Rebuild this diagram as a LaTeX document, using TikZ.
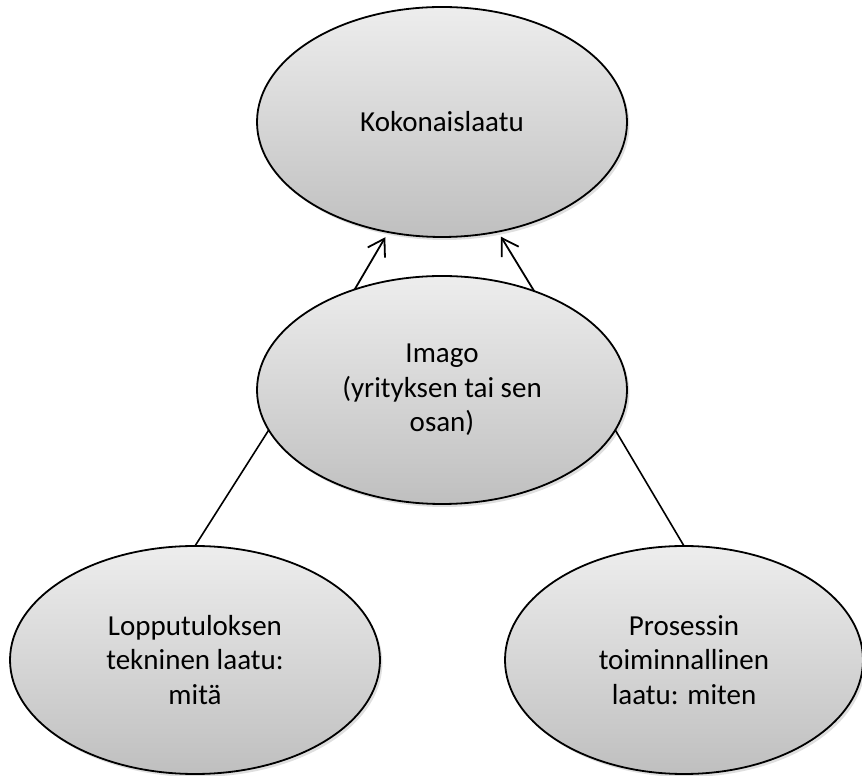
\documentclass[tikz,border=0pt]{standalone}
\usepackage{fontspec}
\setmainfont{Carlito}
\usetikzlibrary{shapes.geometric}
\usetikzlibrary{arrows.meta}
\usetikzlibrary{shadows}

\begin{document}
\begin{tikzpicture}[x=0.5pt, y=0.5pt,
  pallo/.style={ellipse, draw=black, line width=0.9pt, inner sep=0pt, outer sep=0pt,
    top color=gray!14, bottom color=gray!50, align=center,
    font=\fontsize{14.5}{17.3}\selectfont,
    drop shadow={shadow xshift=1.2pt, shadow yshift=-1.5pt, opacity=0.25}},
  nuoli/.style={line width=0.9pt, -{Straight Barb[length=8pt, width=10pt]}, shorten >=3pt},
  viiva/.style={line width=0.8pt}]
\useasboundingbox (0,0) rectangle (862,776);

\node[pallo, minimum width=185pt, minimum height=115pt] (koko) at (442,654) {Kokonaislaatu};
\node[pallo, minimum width=185pt, minimum height=114pt] (imago) at (442,386) {Imago\\(yrityksen tai sen\\osan)};
\node[pallo, minimum width=185pt, minimum height=114pt] (tekn) at (195,116) {Lopputuloksen\\tekninen laatu:\\mitä};
\node[pallo, minimum width=179pt, minimum height=114pt] (toim) at (684,116) {Prosessin\\toiminnallinen\\laatu: miten};

\draw[nuoli] (imago.131) -- (koko.244);
\draw[nuoli] (imago.47) -- (koko.297);

\draw[viiva] (tekn.north) -- (imago.193);
\draw[viiva] (toim.north) -- (imago.347);
\end{tikzpicture}
\end{document}
